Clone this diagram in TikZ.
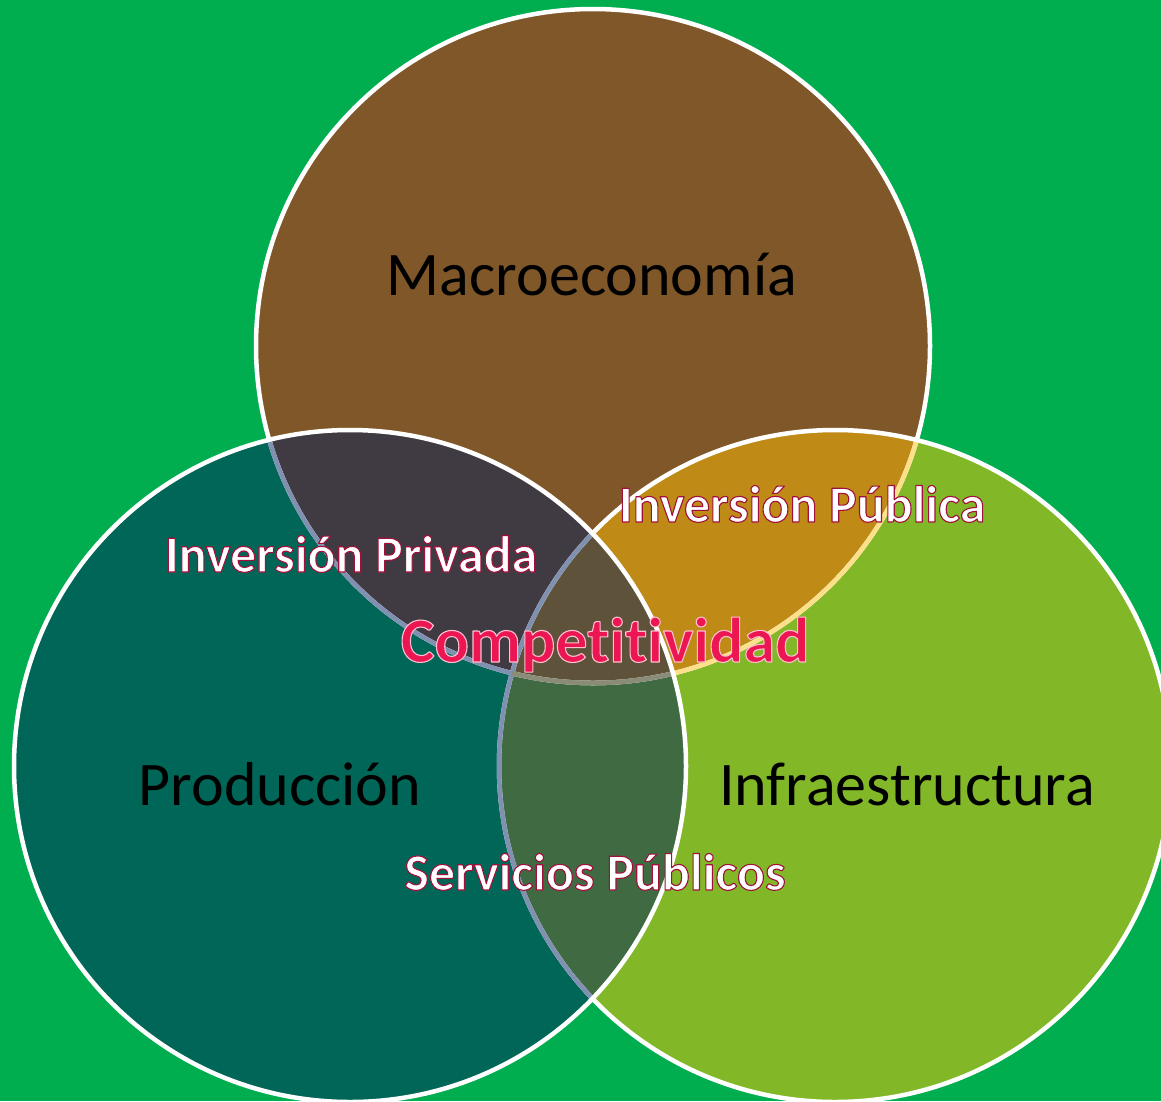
\documentclass[tikz,border=0pt]{standalone}
\usepackage{fontspec}
\setmainfont{Carlito}[Ligatures=NoCommon]
\definecolor{fondo}{RGB}{0,173,79}
\definecolor{marron}{RGB}{127,87,40}
\definecolor{verdeteal}{RGB}{0,102,87}
\definecolor{verdelima}{RGB}{130,184,40}
\definecolor{oro}{RGB}{191,139,22}
\definecolor{grisoscuro}{RGB}{64,59,66}
\definecolor{verdemedio}{RGB}{64,107,66}
\definecolor{centro}{RGB}{94,83,58}
\definecolor{bordeazul}{RGB}{128,144,176}
\definecolor{bordeamarillo}{RGB}{255,224,138}
\definecolor{bordegris}{RGB}{138,140,120}
\definecolor{carmin}{RGB}{236,22,82}
% outlined text (fill + stroke)
\newcommand{\contorno}[3]{\special{pdf:literal direct 2 Tr #2 w 1 j #1 RG}#3\special{pdf:literal direct 0 Tr}}
\begin{document}
\begin{tikzpicture}[x=1pt,y=-1pt]
\tikzstyle{borde}=[line width=4.5pt]
\tikzstyle{area}=[anchor=base,inner sep=0pt,text=black,font=\fontsize{62}{70}\selectfont]
\tikzstyle{cruce}=[anchor=base,inner sep=0pt,text=white,font=\fontsize{52}{60}\selectfont\bfseries]
\tikzstyle{nucleo}=[anchor=base,inner sep=0pt,text=carmin,font=\fontsize{64}{72}\selectfont\bfseries]
\useasboundingbox (0,0) rectangle (1161,1101);
\fill[fondo] (0,0) rectangle (1161,1101);
\coordinate (M) at (593,346);
\coordinate (P) at (350,766);
\coordinate (I) at (835,766);
% fills
\fill[marron] (M) circle (337pt);
\fill[verdelima] (I) circle (336pt);
\fill[verdeteal] (P) circle (336pt);
\begin{scope}
  \clip (M) circle (337pt);
  \fill[oro] (I) circle (336pt);
  \fill[grisoscuro] (P) circle (336pt);
\end{scope}
\begin{scope}
  \clip (P) circle (336pt);
  \fill[verdemedio] (I) circle (336pt);
  \clip (M) circle (337pt);
  \fill[centro] (I) circle (336pt);
\end{scope}
% borders
\draw[borde,white] (M) circle (337pt);
\begin{scope}
  \clip (I) circle (336pt);
  \draw[borde,bordeamarillo] (M) circle (337pt);
\end{scope}
\draw[borde,white] (I) circle (336pt);
\begin{scope}
  \clip (P) circle (336pt);
  \draw[borde,bordeazul] (M) circle (337pt);
  \draw[borde,bordeazul] (I) circle (336pt);
  \clip (I) circle (336pt);
  \draw[borde,bordegris] (M) circle (337pt);
\end{scope}
\draw[borde,white] (P) circle (336pt);
% texts
\node[area] (macro) at (592,295) {Macroeconomía};
\node[area] (prod) at (280,805) {Producción};
\node[area] (infra) at (907,805) {Infraestructura};
\node[cruce] (privada) at (351,572) {\contorno{0.63 0.06 0.23}{1.1}{Inversión Privada}};
\node[cruce] (publica) at (802,522) {\contorno{0.63 0.06 0.23}{1.1}{Inversión Pública}};
\node[cruce] (servicios) at (595,890) {\contorno{0.63 0.06 0.23}{1.1}{Servicios Públicos}};
\node[nucleo] (compet) at (605,662) {\contorno{1 0.75 0.82}{1.1}{Competitividad}};
\end{tikzpicture}
\end{document}
